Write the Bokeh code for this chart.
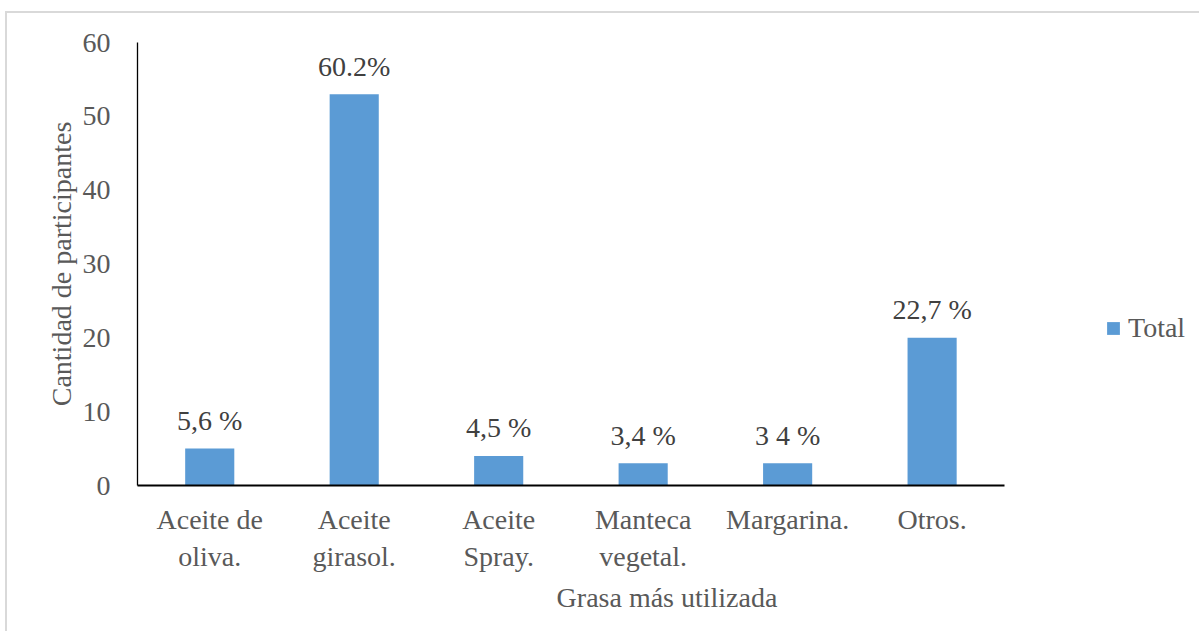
from bokeh.plotting import figure
from bokeh.models import ColumnDataSource, Range1d, FixedTicker, Legend, LegendItem
from bokeh.core.properties import value
from bokeh.embed import file_html
from bokeh.resources import INLINE

categories = ["Aceite de oliva.", "Aceite girasol.", "Aceite Spray.",
              "Manteca vegetal.", "Margarina.", "Otros."]
category_labels = ["Aceite de\noliva.", "Aceite\ngirasol.", "Aceite\nSpray.",
                   "Manteca\nvegetal.", "Margarina.", "Otros."]
participants = [5, 53, 4, 3, 3, 20]
data_labels = ["5,6 %", "60.2%", "4,5 %", "3,4 %", "3 4 %", "22,7 %"]
y_ticks = [0, 10, 20, 30, 40, 50, 60]

FONT = "Liberation Serif"
FS = "28px"
GREY = "#595959"

idx = list(range(len(categories)))
src = ColumnDataSource(dict(x=idx, cat=categories, val=participants, lab=data_labels))

p = figure(width=1194, height=620, output_backend="svg", toolbar_location=None,
           x_range=Range1d(-0.5, 6.83), y_range=Range1d(0, 60),
           min_border_left=130, min_border_right=5,
           min_border_top=29, min_border_bottom=148,
           styles={"border-left": "2px solid #d9d9d9", "border-top": "2px solid #d9d9d9",
                   "margin-left": "5px", "margin-top": "11px"})
p.outline_line_color = None
p.grid.grid_line_color = None
p.background_fill_color = "white"
p.border_fill_color = "white"

bars = p.vbar(x="x", top="val", width=0.34, source=src,
              fill_color="#5b9bd5", line_color=None)

p.text(x="x", y="val", text="lab", source=src, text_align="center",
       text_baseline="alphabetic", y_offset=-28, text_font=value(FONT),
       text_font_size=FS, text_color="#404040")

# axes
xa = p.xaxis[0]
xa.ticker = FixedTicker(ticks=idx)
xa.bounds = (-0.5, 5.5)
xa.axis_line_color = "black"
xa.axis_line_width = 2
xa.major_tick_line_color = None
xa.minor_tick_line_color = None
xa.major_label_overrides = {i: lab for i, lab in zip(idx, category_labels)}
xa.major_label_text_font = FONT
xa.major_label_text_font_size = FS
xa.major_label_text_color = GREY
xa.major_label_standoff = 12
xa.axis_label = "Grasa más utilizada"
xa.axis_label_text_font = FONT
xa.axis_label_text_font_size = FS
xa.axis_label_text_font_style = "normal"
xa.axis_label_text_color = GREY
xa.axis_label_standoff = 7

ya = p.yaxis[0]
ya.ticker = FixedTicker(ticks=y_ticks)
ya.axis_line_color = "black"
ya.axis_line_width = 1.3
ya.major_tick_line_color = None
ya.minor_tick_line_color = None
ya.major_label_text_font = FONT
ya.major_label_text_font_size = FS
ya.major_label_text_color = GREY
ya.major_label_standoff = 21
ya.axis_label = "Cantidad de participantes"
ya.axis_label_text_font = FONT
ya.axis_label_text_font_size = FS
ya.axis_label_text_font_style = "normal"
ya.axis_label_text_color = GREY
ya.axis_label_standoff = 3

legend = Legend(items=[LegendItem(label="Total", renderers=[bars])],
                location=(968, 141), padding=0, margin=0, spacing=0,
                glyph_width=16, glyph_height=16, label_standoff=7,
                label_text_font=FONT, label_text_font_size=FS,
                label_text_color=GREY, border_line_color=None,
                background_fill_alpha=0)
p.add_layout(legend, "center")

open("out.html", "w").write(file_html(p, INLINE))
